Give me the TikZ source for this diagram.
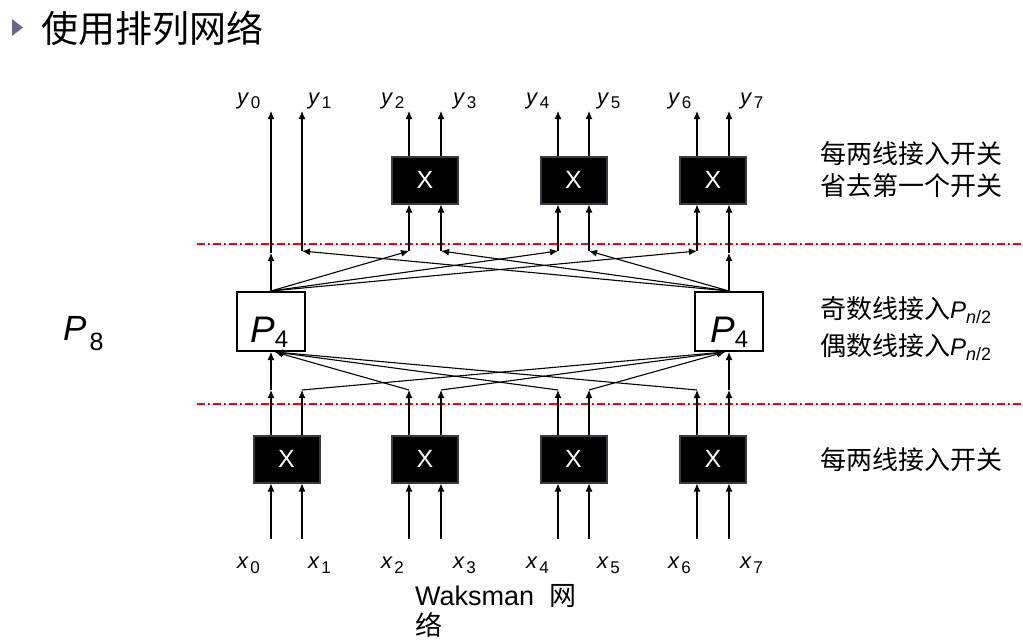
\documentclass[tikz,border=0pt]{standalone}
\usepackage{fontspec}
\setmainfont{Liberation Sans}
\newfontfamily\cjk{Noto Sans CJK SC}
\usetikzlibrary{arrows.meta,calc}
\definecolor{swborder}{RGB}{58,58,70}
\definecolor{tri}{RGB}{104,104,140}
\newcommand\wl[3]{\textit{#1}\kern1.5pt\raisebox{-#3}{\fontsize{17}{17}\selectfont #2}}
\newcommand\pn{\textit{P}\raisebox{-5pt}{\fontsize{18}{18}\selectfont\textit{n}/2}}
\begin{document}
\begin{tikzpicture}[x=1pt,y=-1pt,
  wire/.style={line width=1.1pt, draw=black},
  arr/.style={wire, -{Latex[length=8pt,width=7pt]}},
  sw/.style={draw=swborder, line width=2pt, fill=black, minimum width=66pt, minimum height=47pt, text=white, font=\fontsize{25}{25}\selectfont, inner sep=0},
  perm/.style={draw=black, line width=2pt, fill=white, minimum width=68pt, minimum height=59pt, inner sep=0},
  redline/.style={red, line width=1.7pt, dash pattern=on 8pt off 3pt on 2pt off 3pt},
  lab/.style={anchor=base west, inner sep=0, font=\fontsize{22}{22}\selectfont},
  note/.style={anchor=base west, inner sep=0, font=\fontsize{26}{26}\selectfont},
  plab/.style={anchor=base west, inner sep=0, font=\fontsize{37}{37}\selectfont},
]
\useasboundingbox (0,0) rectangle (1023,640);

% title
\fill[tri] (12,19) -- (23,27.5) -- (12,36) -- cycle;
\node[anchor=base west, inner sep=0, font=\cjk\fontsize{37}{37}\selectfont] (title) at (41,42.5) {使用排列网络};

% red separators
\coordinate (r1a) at (197,244); \coordinate (r1b) at (1023,244);
\coordinate (r2a) at (197,404); \coordinate (r2b) at (1023,404);
\draw[redline] (r1a) -- (r1b);
\draw[redline] (r2a) -- (r2b);

% switches
\node[sw] (s0) at (286.5,459) {X};
\node[sw] (s1) at (425,459) {X};
\node[sw] (s2) at (573.5,459) {X};
\node[sw] (s3) at (713,459) {X};
\node[sw] (u1) at (425,180) {X};
\node[sw] (u2) at (573.5,180) {X};
\node[sw] (u3) at (713,180) {X};

% permutation boxes
\node[perm] (pa) at (271,321.5) {};
\node[perm] (pb) at (729,321.5) {};
\node[plab] (pal) at ($(pa.center)+(-21,20.5)$) {\textit{P}\raisebox{-5pt}{\fontsize{24}{24}\selectfont 4}};
\node[plab] (pbl) at ($(pb.center)+(-19,20.5)$) {\textit{P}\raisebox{-5pt}{\fontsize{24}{24}\selectfont 4}};

% wire coordinates
\foreach \i/\x in {0/271,1/302,2/409,3/441,4/558,5/589,6/697,7/729}{
  \coordinate (i\i) at (\x,539);
  \coordinate (b\i) at (\x,390);
  \coordinate (o\i) at (\x,111);
}
\coordinate (t0) at (271,253);
\coordinate (t1) at (302,251);
\coordinate (t2) at (409,251);
\coordinate (t3) at (441,251);
\coordinate (t4) at (558,251);
\coordinate (t5) at (589,251);
\coordinate (t6) at (697,251);
\coordinate (t7) at (729,253);
\coordinate (pain) at ($(pa.south)+(4,0)$);
\coordinate (pbin) at ($(pb.south)+(-4,0)$);

% inputs into first switch column
\draw[arr] (i0) -- (i0 |- s0.south);
\draw[arr] (i1) -- (i1 |- s0.south);
\draw[arr] (i2) -- (i2 |- s1.south);
\draw[arr] (i3) -- (i3 |- s1.south);
\draw[arr] (i4) -- (i4 |- s2.south);
\draw[arr] (i5) -- (i5 |- s2.south);
\draw[arr] (i6) -- (i6 |- s3.south);
\draw[arr] (i7) -- (i7 |- s3.south);

% switch outputs up to the corners
\draw[arr] (b0 |- s0.north) -- (b0);
\draw[arr] (b1 |- s0.north) -- (b1);
\draw[arr] (b2 |- s1.north) -- (b2);
\draw[arr] (b3 |- s1.north) -- (b3);
\draw[arr] (b4 |- s2.north) -- (b4);
\draw[arr] (b5 |- s2.north) -- (b5);
\draw[arr] (b6 |- s3.north) -- (b6);
\draw[arr] (b7 |- s3.north) -- (b7);

% into the P4 boxes
\draw[arr] (b0) -- (pa.south);
\draw[arr] (b2) -- (pain);
\draw[arr] (b4) -- (pain);
\draw[arr] (b6) -- (pain);
\draw[arr] (b7) -- (pb.south);
\draw[arr] (b1) -- (pbin);
\draw[arr] (b3) -- (pbin);
\draw[arr] (b5) -- (pbin);

% out of the P4 boxes
\draw[arr] (pa.north) -- (t0);
\draw[arr] (pa.north) -- (t2);
\draw[arr] (pa.north) -- (t4);
\draw[arr] (pa.north) -- (t6);
\draw[arr] (pb.north) -- (t7);
\draw[arr] (pb.north) -- (t1);
\draw[arr] (pb.north) -- (t3);
\draw[arr] (pb.north) -- (t5);

% corners up to the last switch column / outputs
\draw[arr] (t0) -- (o0);
\draw[arr] (t1) -- (o1);
\draw[arr] (t2) -- (t2 |- u1.south);
\draw[arr] (t3) -- (t3 |- u1.south);
\draw[arr] (t4) -- (t4 |- u2.south);
\draw[arr] (t5) -- (t5 |- u2.south);
\draw[arr] (t6) -- (t6 |- u3.south);
\draw[arr] (t7) -- (t7 |- u3.south);
\draw[arr] (o2 |- u1.north) -- (o2);
\draw[arr] (o3 |- u1.north) -- (o3);
\draw[arr] (o4 |- u2.north) -- (o4);
\draw[arr] (o5 |- u2.north) -- (o5);
\draw[arr] (o6 |- u3.north) -- (o6);
\draw[arr] (o7 |- u3.north) -- (o7);

% labels
\foreach \i/\x in {0/237,1/308,2/381,3/453,4/526,5/597,6/668,7/740}{
  \node[lab] (ly\i) at (\x,104) {\wl{y}{\i}{4pt}};
  \node[lab] (lx\i) at (\x,568) {\wl{x}{\i}{5pt}};
}

\node[anchor=base west, inner sep=0, font=\fontsize{35}{35}\selectfont] (p8) at (63,340) {\textit{P}\kern3pt\raisebox{-10pt}{\fontsize{25}{25}\selectfont 8}};

% notes
\node[note] (n1) at (820,163) {\cjk 每两线接入开关};
\node[note] (n2) at (820,195) {\cjk 省去第一个开关};
\node[note] (n3) at (820,318) {{\cjk 奇数线接入}{\fontsize{24}{24}\selectfont\pn}};
\node[note] (n4) at (820,355) {{\cjk 偶数线接入}{\fontsize{24}{24}\selectfont\pn}};
\node[note] (n5) at (820,469) {\cjk 每两线接入开关};

\node[note, font=\fontsize{27}{27}\selectfont] (w1) at (415,605) {Waksman\ \ {\cjk 网}};
\node[note, font=\fontsize{27}{27}\selectfont] (w2) at (415,635) {\cjk 络};
\end{tikzpicture}
\end{document}
